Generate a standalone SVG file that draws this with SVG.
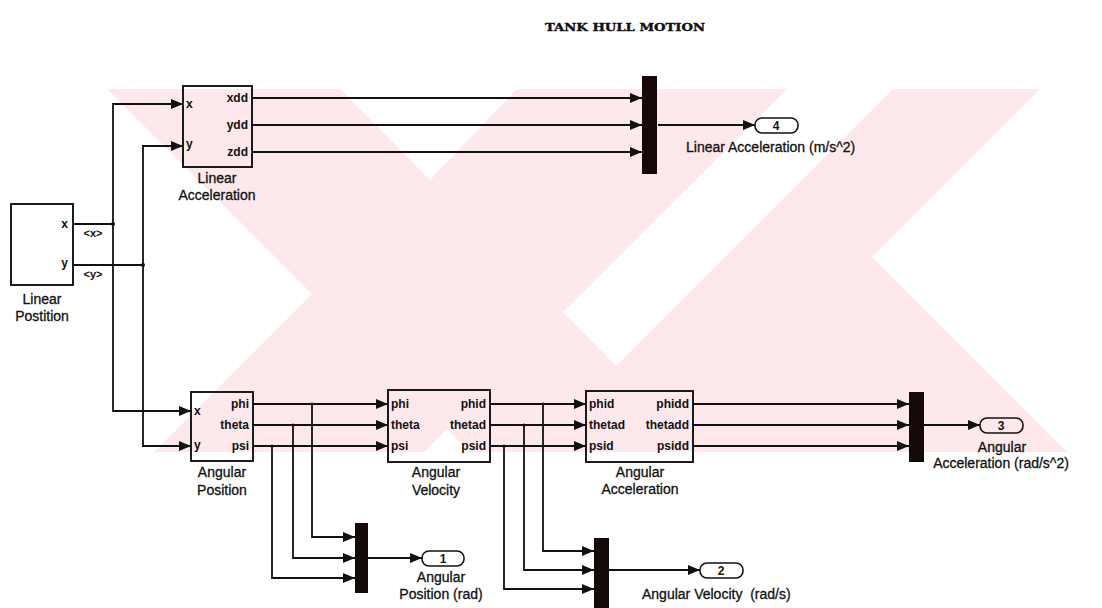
<svg xmlns="http://www.w3.org/2000/svg" width="1102" height="608" viewBox="0 0 1102 608">
<defs>
<style>
.wm{fill:#fde8ec;stroke:none}
.wc{fill:#fff;stroke:none}
.ln{stroke:#111;stroke-width:1.8;fill:none}
.blk{fill:none;stroke:#111;stroke-width:1.9}
.bar{fill:#150909}
.op{fill:none;stroke:#111;stroke-width:1.6}
.dot{fill:#111}
.port{font-family:"Liberation Sans",Arial,sans-serif;font-weight:bold;font-size:12px;fill:#111}
.sig{font-family:"Liberation Sans",Arial,sans-serif;font-weight:bold;font-size:11px;fill:#111}
.lbl{font-family:"Liberation Sans",Arial,sans-serif;font-size:14px;fill:#111;stroke:#111;stroke-width:0.3}
.num{font-family:"Liberation Sans",Arial,sans-serif;font-weight:bold;font-size:12px;fill:#111;text-anchor:middle}
.title{font-family:"DejaVu Serif","Liberation Serif",serif;font-weight:bold;font-size:11px;fill:#111;stroke:#111;stroke-width:0.4}
.e{text-anchor:end}
.m{text-anchor:middle}
</style>
<marker id="ar" markerUnits="userSpaceOnUse" markerWidth="12" markerHeight="10" refX="12" refY="5" orient="auto">
<path d="M0,0 L12,5 L0,10 Z" fill="#111"/>
</marker>
</defs>
<rect width="1102" height="608" fill="#fff"/>
<g id="watermark">
<rect class="wm" x="107" y="89" width="995" height="363"/>
<polygon class="wc" points="100,89 107,89 312,294 154,452 100,452"/>
<polygon class="wc" points="340,89 517,89 430,180"/>
<polygon class="wc" points="787,89 893,89 616,366 563,312"/>
<polygon class="wc" points="1040,89 1102,89 1102,452 1067,452 872,257"/>
<polygon class="wc" points="424,452 470,452 447,429"/>
</g>
<text class="title" x="625" y="31" text-anchor="middle" textLength="160" lengthAdjust="spacingAndGlyphs">TANK HULL MOTION</text>
<g id="connectors">
<path class="ln" d="M73,224 H113 V411 H191" marker-end="url(#ar)"/>
<path class="ln" d="M113,224 V104 H183" marker-end="url(#ar)"/>
<path class="ln" d="M73,265 H143 V446 H191" marker-end="url(#ar)"/>
<path class="ln" d="M143,265 V146 H183" marker-end="url(#ar)"/>
<path class="ln" d="M252,98 H642" marker-end="url(#ar)"/>
<path class="ln" d="M252,125 H642" marker-end="url(#ar)"/>
<path class="ln" d="M252,152 H642" marker-end="url(#ar)"/>
<path class="ln" d="M658,125 H755" marker-end="url(#ar)"/>
<path class="ln" d="M253,404 H388" marker-end="url(#ar)"/>
<path class="ln" d="M253,425 H388" marker-end="url(#ar)"/>
<path class="ln" d="M253,446 H388" marker-end="url(#ar)"/>
<path class="ln" d="M312,404 V537 H355" marker-end="url(#ar)"/>
<path class="ln" d="M293,425 V558 H355" marker-end="url(#ar)"/>
<path class="ln" d="M272,446 V578 H355" marker-end="url(#ar)"/>
<path class="ln" d="M368,558 H422" marker-end="url(#ar)"/>
<path class="ln" d="M490,404 H586" marker-end="url(#ar)"/>
<path class="ln" d="M490,425 H586" marker-end="url(#ar)"/>
<path class="ln" d="M490,446 H586" marker-end="url(#ar)"/>
<path class="ln" d="M543,404 V551 H594" marker-end="url(#ar)"/>
<path class="ln" d="M524,425 V570 H594" marker-end="url(#ar)"/>
<path class="ln" d="M504,446 V589 H594" marker-end="url(#ar)"/>
<path class="ln" d="M609,570 H700" marker-end="url(#ar)"/>
<path class="ln" d="M693,404 H909" marker-end="url(#ar)"/>
<path class="ln" d="M693,425 H909" marker-end="url(#ar)"/>
<path class="ln" d="M693,446 H909" marker-end="url(#ar)"/>
<path class="ln" d="M924,425 H980" marker-end="url(#ar)"/>
<circle class="dot" cx="113" cy="224" r="2"/>
<circle class="dot" cx="143" cy="265" r="2"/>
<circle class="dot" cx="312" cy="404" r="1.6"/>
<circle class="dot" cx="293" cy="425" r="1.6"/>
<circle class="dot" cx="272" cy="446" r="1.6"/>
<circle class="dot" cx="543" cy="404" r="1.6"/>
<circle class="dot" cx="524" cy="425" r="1.6"/>
<circle class="dot" cx="504" cy="446" r="1.6"/>
<text class="sig m" x="93" y="237">&lt;x&gt;</text>
<text class="sig m" x="93" y="278">&lt;y&gt;</text>
</g>
<g id="linear-position">
<rect class="blk" x="11" y="204" width="62" height="81"/>
<text class="port e" x="68" y="228">x</text>
<text class="port e" x="68" y="267">y</text>
<text class="lbl m" x="42" y="304">Linear</text>
<text class="lbl m" x="42" y="321">Postition</text>
</g>
<g id="linear-acceleration">
<rect class="blk" x="183" y="86" width="69" height="81"/>
<text class="port" x="186" y="108">x</text>
<text class="port" x="186" y="148">y</text>
<text class="port e" x="248" y="102">xdd</text>
<text class="port e" x="248" y="129">ydd</text>
<text class="port e" x="248" y="156">zdd</text>
<text class="lbl m" x="217" y="183">Linear</text>
<text class="lbl m" x="217" y="200">Acceleration</text>
</g>
<g id="angular-position">
<rect class="blk" x="191" y="392" width="62" height="69"/>
<text class="port" x="194" y="415">x</text>
<text class="port" x="194" y="449">y</text>
<text class="port e" x="249" y="408">phi</text>
<text class="port e" x="249" y="429">theta</text>
<text class="port e" x="249" y="450">psi</text>
<text class="lbl m" x="222" y="477">Angular</text>
<text class="lbl m" x="222" y="495">Position</text>
</g>
<g id="angular-velocity">
<rect class="blk" x="388" y="390" width="102" height="72"/>
<text class="port" x="391" y="408">phi</text>
<text class="port" x="391" y="429">theta</text>
<text class="port" x="391" y="450">psi</text>
<text class="port e" x="486" y="408">phid</text>
<text class="port e" x="486" y="429">thetad</text>
<text class="port e" x="486" y="450">psid</text>
<text class="lbl m" x="436" y="477">Angular</text>
<text class="lbl m" x="436" y="495">Velocity</text>
</g>
<g id="angular-acceleration">
<rect class="blk" x="586" y="391" width="107" height="71"/>
<text class="port" x="589" y="408">phid</text>
<text class="port" x="589" y="429">thetad</text>
<text class="port" x="589" y="450">psid</text>
<text class="port e" x="689" y="408">phidd</text>
<text class="port e" x="689" y="429">thetadd</text>
<text class="port e" x="689" y="450">psidd</text>
<text class="lbl m" x="640" y="477">Angular</text>
<text class="lbl m" x="640" y="494">Acceleration</text>
</g>
<g id="mux-linear">
<rect class="bar" x="642" y="76" width="15" height="98"/>
</g>
<g id="mux-angular-position">
<rect class="bar" x="355" y="523" width="13" height="70"/>
</g>
<g id="mux-angular-velocity">
<rect class="bar" x="594" y="538" width="15" height="70"/>
</g>
<g id="mux-angular-acceleration">
<rect class="bar" x="909" y="392" width="15" height="70"/>
</g>
<g id="out-4">
<rect class="op" x="755" y="118" width="43" height="15" rx="7"/>
<text class="num" x="776" y="130">4</text>
<text class="lbl" x="686" y="152">Linear Acceleration (m/s^2)</text>
</g>
<g id="out-1">
<rect class="op" x="422" y="551" width="42" height="15" rx="7"/>
<text class="num" x="443" y="563">1</text>
<text class="lbl m" x="441" y="582">Angular</text>
<text class="lbl m" x="441" y="599">Position (rad)</text>
</g>
<g id="out-2">
<rect class="op" x="700" y="563" width="43" height="15" rx="7"/>
<text class="num" x="721" y="575">2</text>
<text class="lbl" x="642" y="599" xml:space="preserve">Angular Velocity  (rad/s)</text>
</g>
<g id="out-3">
<rect class="op" x="980" y="418" width="43" height="15" rx="7"/>
<text class="num" x="1001" y="430">3</text>
<text class="lbl m" x="1002" y="452">Angular</text>
<text class="lbl m" x="1001" y="468">Acceleration (rad/s^2)</text>
</g>
</svg>
